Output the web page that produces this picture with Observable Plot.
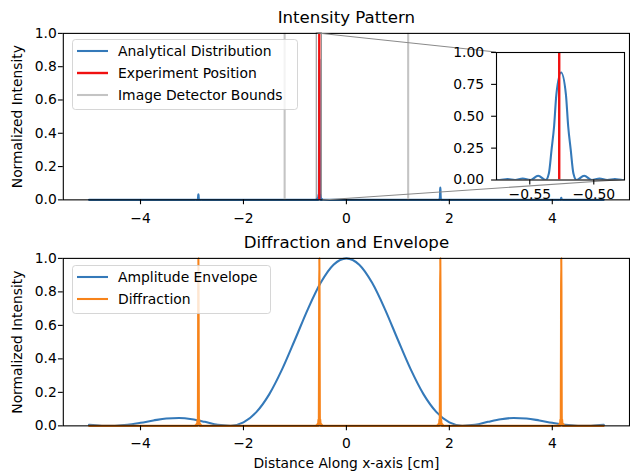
<!DOCTYPE html>
<html>
<head>
<meta charset="utf-8">
<script src="https://cdn.jsdelivr.net/npm/d3@7"></script>
<script src="https://cdn.jsdelivr.net/npm/@observablehq/plot@0.6"></script>
<style>
  html, body { margin: 0; padding: 0; background: #fff; overflow: hidden; }
  #fig { position: relative; width: 630px; height: 475px; overflow: hidden; background: #fff; }
  #fig > svg { position: absolute; }
</style>
</head>
<body>
<div id="fig"></div>
<script>
// ---------------- data ----------------
const envelopeX = [-5, -4.75, -4.5, -4.25, -4, -3.75, -3.5, -3.25, -3, -2.75, -2.5, -2.25, -2, -1.75, -1.5, -1.25, -1, -0.75, -0.5, -0.25,
                   0, 0.25, 0.5, 0.75, 1, 1.25, 1.5, 1.75, 2, 2.25, 2.5, 2.75, 3, 3.25, 3.5, 3.75, 4, 4.25, 4.5, 4.75, 5];
const envelopeY = [0.006, 0.001, 0.001, 0.006, 0.018, 0.032, 0.044, 0.047, 0.040, 0.024, 0.006, 0.001, 0.021, 0.082, 0.188, 0.337, 0.514, 0.696, 0.854, 0.962,
                   1.000, 0.962, 0.854, 0.696, 0.514, 0.337, 0.188, 0.082, 0.021, 0.001, 0.006, 0.024, 0.040, 0.047, 0.044, 0.032, 0.018, 0.006, 0.001, 0.001, 0.006];

const peakPositions    = [-2.8755, -0.5255, 1.8245, 4.1745];
const analyticalPeaks  = [0.034, 0.843, 0.074, 0.012];
const diffractionPeaks = [1, 1, 1, 1];

// shape of one peak (offset in cm, height relative to peak)
const profileOffsets = [-0.060, -0.054, -0.048, -0.042, -0.036, -0.030, -0.024, -0.018, -0.012, -0.0096, -0.0075, -0.0055, -0.0037, 0,
                        0.0037, 0.0055, 0.0075, 0.0096, 0.012, 0.018, 0.024, 0.030, 0.036, 0.042, 0.048, 0.054, 0.060];
const profileShape   = [0, 0.005, 0, 0.009, 0, 0.014, 0, 0.040, 0, 0.06, 0.28, 0.50, 0.80, 1,
                        0.80, 0.50, 0.28, 0.06, 0, 0.040, 0, 0.014, 0, 0.009, 0, 0.005, 0];

const dataRange = [-5, 5];
const experimentPosition = -0.527;
const detectorBounds = [-1.2, 1.2];
const insetXDomain = [-0.576, -0.476];

const xDomain = [-5.5, 5.5];
const xTicks = [-4, -2, 0, 2, 4];
const yTicks = [0, 0.2, 0.4, 0.6, 0.8, 1.0];
const insetXTicks = [-0.55, -0.50];
const insetYTicks = [0, 0.25, 0.5, 0.75, 1.0];

const titles = ["Intensity Pattern", "Diffraction and Envelope"];
const yLabel = "Normalized Intensity";
const xLabel = "Distance Along x-axis [cm]";
const legendTop = ["Analytical Distribution", "Experiment Position", "Image Detector Bounds"];
const legendBottom = ["Amplitude Envelope", "Diffraction"];

// ---------------- tables ----------------
function peakSeries(heights) {
  const rows = [{x: dataRange[0], y: 0}];
  peakPositions.forEach((p, i) => {
    profileOffsets.forEach((d, j) => rows.push({x: p + d, y: heights[i] * profileShape[j]}));
  });
  rows.push({x: dataRange[1], y: 0});
  return rows;
}
const analytical = peakSeries(analyticalPeaks);
const diffraction = peakSeries(diffractionPeaks);
const envelope = envelopeX.map((x, i) => ({x, y: envelopeY[i]}));

// ---------------- styles ----------------
const BLUE = "#3479b9", ORANGE = "#f7831a", RED = "#f01010", GRAY = "#c4c4c4", INSET = "#8a8a8a";
const FONT = "'DejaVu Sans', sans-serif";
const FS = 13.9;
const svgStyle = {fontFamily: FONT, fontSize: FS + "px", background: "transparent", color: "black"};
const fmt1 = d3.format(".1f"), fmtInt = d3.format("d"), fmt2 = d3.format(".2f");

function axes(xPad) {
  return [
    Plot.frame({stroke: "black", strokeWidth: 1.1}),
    Plot.axisX({ticks: xTicks, tickFormat: fmtInt, tickSize: 4.9, tickPadding: xPad, label: null, strokeWidth: 1.1}),
    Plot.axisY({ticks: yTicks, tickFormat: fmt1, tickSize: 4.9, tickPadding: 1.6, label: null, strokeWidth: 1.1})
  ];
}

const fig = document.getElementById("fig");

// ---------------- top panel ----------------
const topPlot = Plot.plot({
  width: 632, height: 225,
  marginLeft: 63, marginRight: 1, marginTop: 33, marginBottom: 25,
  style: svgStyle,
  x: {domain: xDomain},
  y: {domain: [0, 1]},
  marks: [
    Plot.rect([{x1: insetXDomain[0], x2: insetXDomain[1], y1: 0, y2: 1}], {x1: "x1", x2: "x2", y1: "y1", y2: "y2", fill: "none", stroke: INSET, strokeWidth: 1}),
    Plot.line(analytical, {x: "x", y: "y", stroke: BLUE, strokeWidth: 2.08, curve: "monotone-x"}),
    Plot.ruleX([experimentPosition], {stroke: RED, strokeWidth: 2.4}),
    Plot.ruleX(detectorBounds, {stroke: GRAY, strokeWidth: 2.08}),
    ...axes(8.2),
    Plot.text([titles[0]], {frameAnchor: "top", textAnchor: "middle", dy: -15.4, fontSize: 16.7, lineAnchor: "middle"}),
    Plot.text([yLabel], {frameAnchor: "left", textAnchor: "middle", rotate: -90, dx: -46, lineAnchor: "middle"})
  ]
});
topPlot.style.left = "0px"; topPlot.style.top = "0px";
fig.appendChild(topPlot);

// ---------------- bottom panel ----------------
const bottomPlot = Plot.plot({
  width: 632, height: 250,
  marginLeft: 63, marginRight: 1, marginTop: 33, marginBottom: 49,
  style: svgStyle,
  x: {domain: xDomain},
  y: {domain: [0, 1]},
  marks: [
    Plot.line(envelope, {x: "x", y: "y", stroke: BLUE, strokeWidth: 2.08, curve: "monotone-x"}),
    Plot.line(diffraction, {x: "x", y: "y", stroke: ORANGE, strokeWidth: 2.08, curve: "monotone-x"}),
    ...axes(7.4),
    Plot.text([titles[1]], {frameAnchor: "top", textAnchor: "middle", dy: -15.4, fontSize: 16.7, lineAnchor: "middle"}),
    Plot.text([yLabel], {frameAnchor: "left", textAnchor: "middle", rotate: -90, dx: -46, lineAnchor: "middle"}),
    Plot.text([xLabel], {frameAnchor: "bottom", textAnchor: "middle", dy: 38.3, lineAnchor: "middle"})
  ]
});
bottomPlot.style.left = "0px"; bottomPlot.style.top = "225px";
fig.appendChild(bottomPlot);

// ---------------- inset ----------------
const INSET_LEFT = 440, INSET_TOP = 40;
const insetPlot = Plot.plot({
  width: 190, height: 175,
  marginLeft: 56, marginRight: 6, marginTop: 12, marginBottom: 35.5,
  style: svgStyle,
  x: {domain: insetXDomain},
  y: {domain: [0, 1]},
  marks: [
    Plot.frame({fill: "white", stroke: "none"}),
    Plot.line(analytical, {x: "x", y: "y", stroke: BLUE, strokeWidth: 2.08, curve: "monotone-x", clip: true}),
    Plot.ruleX([experimentPosition], {stroke: RED, strokeWidth: 2.4, clip: true}),
    Plot.frame({stroke: "black", strokeWidth: 1.1}),
    Plot.axisX({ticks: insetXTicks, tickFormat: fmt2, tickSize: 4.9, tickPadding: 4.5, label: null, strokeWidth: 1.1}),
    Plot.axisY({ticks: insetYTicks, tickFormat: fmt2, tickSize: 4.9, tickPadding: 7.5, label: null, strokeWidth: 1.1})
  ]
});

// connectors between the zoom rectangle and the inset (drawn below the inset)
const tx = topPlot.scale("x"), ty = topPlot.scale("y");
const ix = insetPlot.scale("x"), iy = insetPlot.scale("y");
const conn = d3.create("svg").attr("width", 630).attr("height", 475).style("left", "0px").style("top", "0px");
const links = [
  [tx.apply(insetXDomain[0]), ty.apply(1), INSET_LEFT + ix.apply(insetXDomain[0]), INSET_TOP + iy.apply(1)],
  [tx.apply(insetXDomain[1]), ty.apply(0), INSET_LEFT + ix.apply(insetXDomain[1]), INSET_TOP + iy.apply(0)]
];
conn.selectAll("line").data(links).join("line")
  .attr("x1", d => d[0]).attr("y1", d => d[1]).attr("x2", d => d[2]).attr("y2", d => d[3])
  .attr("stroke", INSET).attr("stroke-width", 1.1);
fig.appendChild(conn.node());

insetPlot.style.left = INSET_LEFT + "px"; insetPlot.style.top = INSET_TOP + "px";
fig.appendChild(insetPlot);

// ---------------- legends ----------------
const leg = d3.create("svg").attr("width", 630).attr("height", 475).style("left", "0px").style("top", "0px")
  .attr("font-family", FONT).attr("font-size", FS);
function drawLegend(box, labels, colors, widths) {
  const g = leg.append("g");
  g.append("rect").attr("x", box.x + 0.5).attr("y", box.y + 0.5).attr("width", box.w).attr("height", box.h)
    .attr("rx", 3).attr("fill", "white").attr("fill-opacity", 0.8)
    .attr("stroke", "#cccccc").attr("stroke-opacity", 0.8).attr("stroke-width", 1);
  labels.forEach((t, i) => {
    const y = box.y + 12 + i * 22;
    g.append("line").attr("x1", box.x + 5).attr("x2", box.x + 36).attr("y1", y).attr("y2", y)
      .attr("stroke", colors[i]).attr("stroke-width", widths[i]);
    g.append("text").attr("x", box.x + 46).attr("y", y + 5.1).attr("fill", "black").text(t);
  });
}
drawLegend({x: 72, y: 39, w: 225, h: 70}, legendTop, [BLUE, RED, GRAY], [2.08, 2.4, 2.08]);
drawLegend({x: 72, y: 265, w: 198, h: 48}, legendBottom, [BLUE, ORANGE], [2.08, 2.08]);
fig.appendChild(leg.node());
</script>
</body>
</html>
